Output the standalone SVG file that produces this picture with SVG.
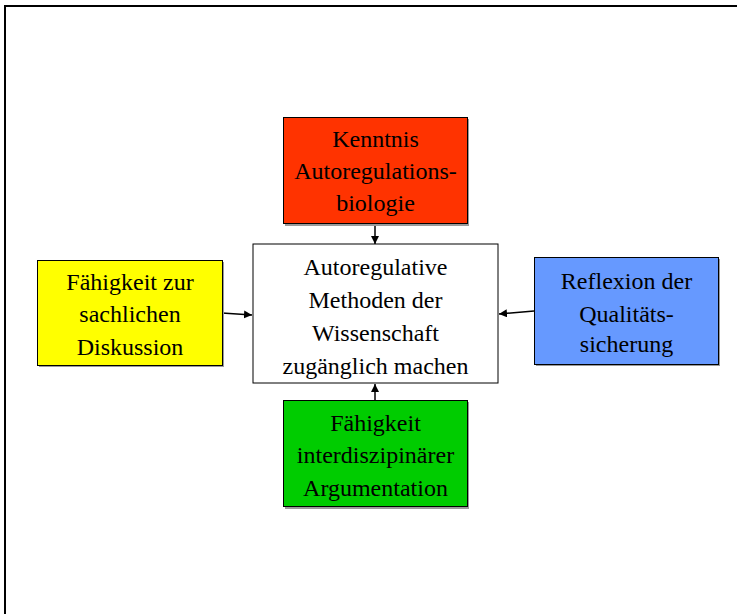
<svg xmlns="http://www.w3.org/2000/svg" width="737" height="614" viewBox="0 0 737 614">
<defs>
<marker id="ah" viewBox="0 0 10 10" refX="10" refY="5" markerWidth="8" markerHeight="8" markerUnits="userSpaceOnUse" orient="auto">
<path d="M0,0 L10,5 L0,10 z" fill="#000"/>
</marker>
</defs>
<style>
.shadow{fill:#9a9a9a}
.box{stroke:#000;stroke-width:1}
.t{font-family:"Liberation Serif","Times New Roman",serif;font-size:24px;fill:#000;text-anchor:middle}
.c{stroke:#000;stroke-width:1.5;fill:none;marker-end:url(#ah)}
</style>
<rect x="5" y="6" width="745" height="625" fill="#fff" stroke="#000" stroke-width="2"/>
<g id="connectors">
<line class="c" x1="375" y1="224" x2="375" y2="244"/>
<line class="c" x1="222" y1="313" x2="252" y2="315"/>
<line class="c" x1="534" y1="311" x2="499" y2="314"/>
<line class="c" x1="375" y1="400" x2="375" y2="384"/>
</g>
<g id="n-red">
<rect class="shadow" x="285" y="119" width="184" height="107"/>
<rect class="box" x="283.5" y="117.5" width="184" height="106" fill="#FF3300"/>
<text class="t" x="375.5" y="147">Kenntnis</text>
<text class="t" x="375.5" y="179">Autoregulations-</text>
<text class="t" x="375.5" y="211">biologie</text>
</g>
<g id="n-center">
<rect class="box" x="253" y="244" width="245" height="139" fill="#fff"/>
<text class="t" x="375.5" y="275">Autoregulative</text>
<text class="t" x="375.5" y="308">Methoden der</text>
<text class="t" x="375.5" y="341">Wissenschaft</text>
<text class="t" x="375.5" y="374">zugänglich machen</text>
</g>
<g id="n-yellow">
<rect class="shadow" x="39" y="262" width="185" height="105"/>
<rect class="box" x="37.5" y="260.5" width="185" height="105" fill="#FFFF00"/>
<text class="t" x="130" y="290">Fähigkeit zur</text>
<text class="t" x="130" y="322">sachlichen</text>
<text class="t" x="130" y="355">Diskussion</text>
</g>
<g id="n-blue">
<rect class="shadow" x="536" y="259" width="184" height="107"/>
<rect class="box" x="534.5" y="257.5" width="184" height="107" fill="#6699FF"/>
<text class="t" x="626.5" y="289">Reflexion der</text>
<text class="t" x="626.5" y="322">Qualitäts-</text>
<text class="t" x="626.5" y="352">sicherung</text>
</g>
<g id="n-green">
<rect class="shadow" x="285" y="402" width="184" height="107"/>
<rect class="box" x="283.5" y="400.5" width="184" height="106" fill="#00CC00"/>
<text class="t" x="375.5" y="431">Fähigkeit</text>
<text class="t" x="375.5" y="463">interdiszipinärer</text>
<text class="t" x="375.5" y="496">Argumentation</text>
</g>
</svg>
